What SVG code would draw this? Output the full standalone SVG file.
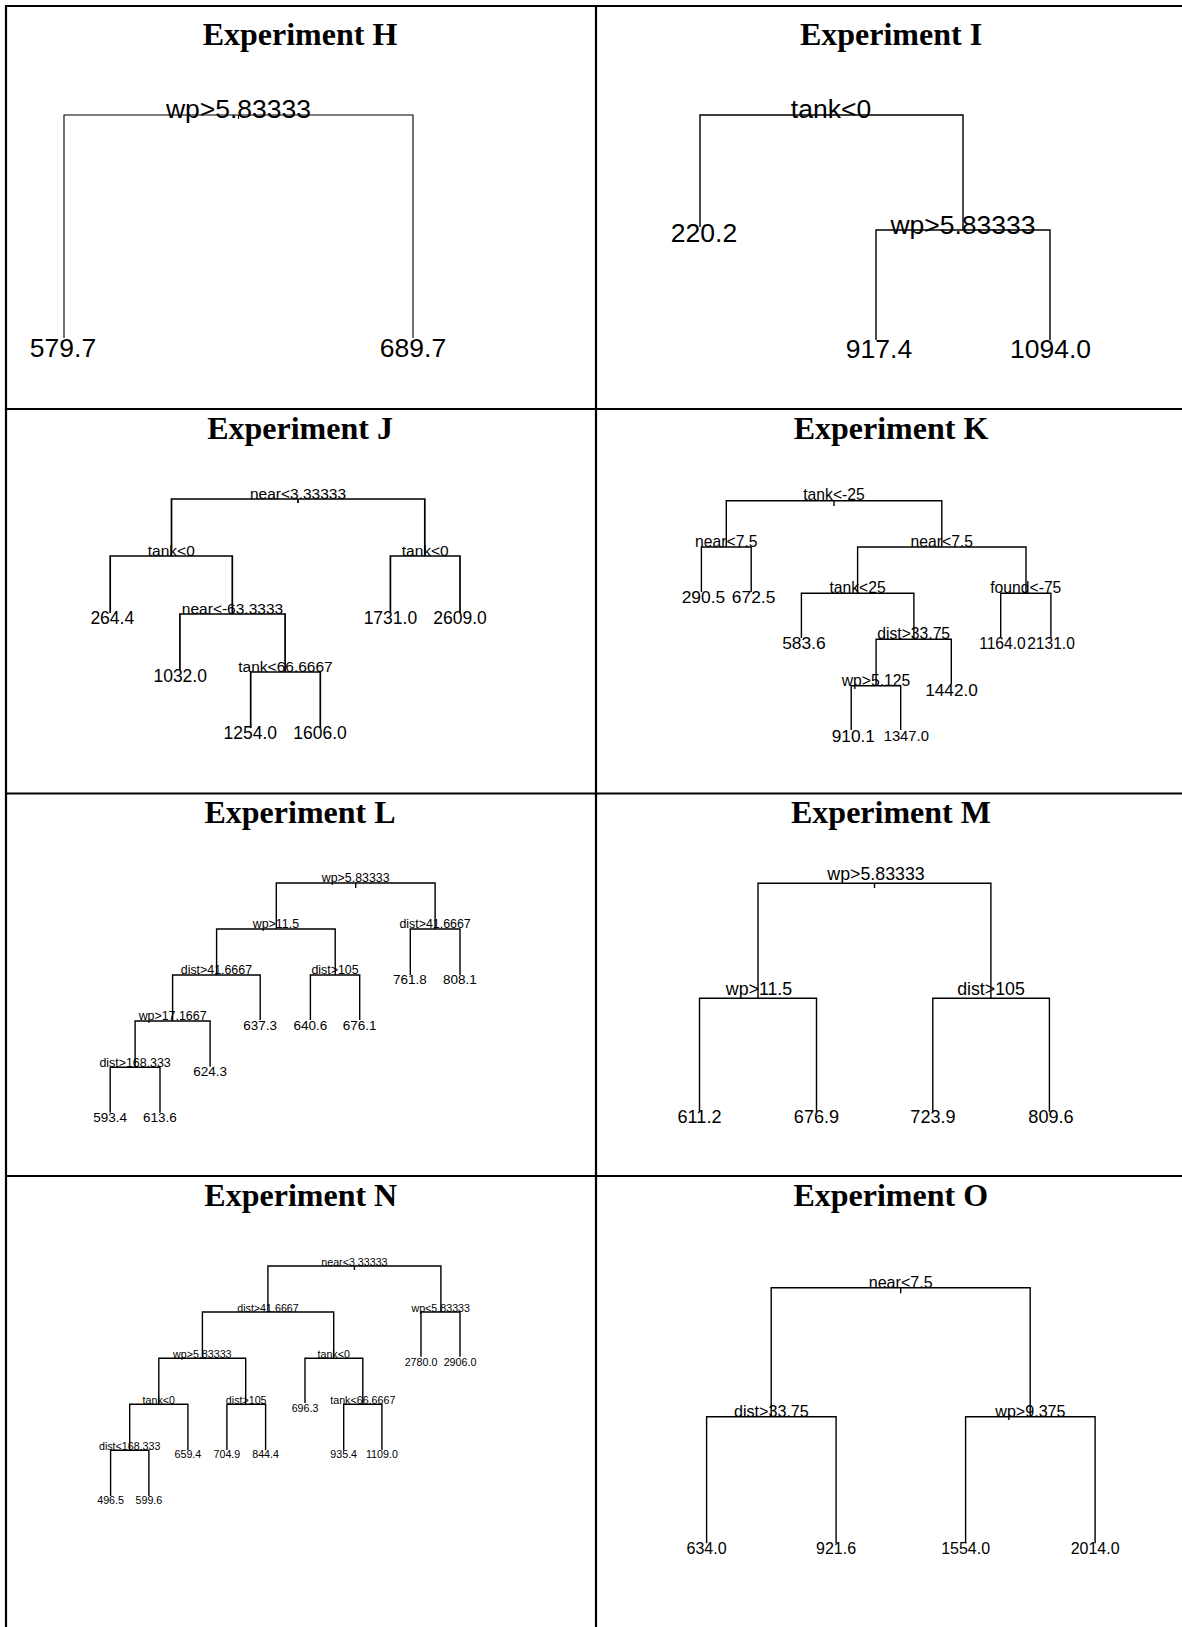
<svg xmlns="http://www.w3.org/2000/svg" width="1182" height="1627" viewBox="0 0 1182 1627">
<style>
.frame{stroke:#000;stroke-width:2.2;fill:none}
.edges path{stroke:#000;fill:none;stroke-width:1.4}
.thin path{stroke-width:1.1}
.thick path{stroke-width:1.7}
.title{font-family:"Liberation Serif","Times New Roman",serif;font-weight:bold;font-size:32px;text-anchor:middle;fill:#000}
.lab{font-family:"Liberation Sans",Arial,sans-serif;text-anchor:middle;fill:#000}
</style>
<rect x="0" y="0" width="1182" height="1627" fill="#fff"/>
<g id="frame" class="frame">
<path d="M5,6 H1182 M6,5 V1627 M596,5 V1627 M5,409 H1182 M5,793.5 H1182 M5,1176 H1182"/>
</g>

<g id="panel-H">
<text class="title" x="300" y="45">Experiment H</text>
<g id="H-connectors" class="edges thin">
<path d="M64,338 V115 H413 V338"/>
<path d="M238.5,115 V119"/>
</g>
<g id="H-n1"><text class="lab" font-size="26.5" x="238.5" y="118">wp&gt;5.83333</text></g>
<g id="H-n2"><text class="lab" font-size="26.5" x="63" y="357">579.7</text></g>
<g id="H-n3"><text class="lab" font-size="26.5" x="413" y="357">689.7</text></g>
</g>

<g id="panel-I">
<text class="title" x="891" y="45">Experiment I</text>
<g id="I-connectors" class="edges">
<path d="M700,227 V115 H963 V230"/>
<path d="M876,340 V230 H1050 V340"/>
</g>
<g id="I-n1"><text class="lab" font-size="26.5" x="831" y="118">tank&lt;0</text></g>
<g id="I-n2"><text class="lab" font-size="26.5" x="704" y="242">220.2</text></g>
<g id="I-n3"><text class="lab" font-size="26.5" x="963" y="234">wp&gt;5.83333</text></g>
<g id="I-n4"><text class="lab" font-size="26.5" x="879" y="358">917.4</text></g>
<g id="I-n5"><text class="lab" font-size="26.5" x="1050.5" y="358">1094.0</text></g>
</g>

<g id="panel-J">
<text class="title" x="300" y="439">Experiment J</text>
<g id="J-connectors" class="edges thick">
<path d="M171.5,556 V499 H424.8 V556"/>
<path d="M298,499 V503"/>
<path d="M110.2,613 V556 H232.3 V614"/>
<path d="M390.4,613 V556 H460 V613"/>
<path d="M179.9,670 V614 H285.1 V672"/>
<path d="M250.7,728 V672 H320.3 V728"/>
</g>
<g id="J-n1"><text class="lab" font-size="15.5" x="298" y="498.5">near&lt;3.33333</text></g>
<g id="J-n2"><text class="lab" font-size="15.5" x="171.3" y="555.5">tank&lt;0</text></g>
<g id="J-n3"><text class="lab" font-size="15.5" x="425.2" y="555.5">tank&lt;0</text></g>
<g id="J-n4"><text class="lab" font-size="17.5" x="112.3" y="624">264.4</text></g>
<g id="J-n5"><text class="lab" font-size="15.5" x="232.5" y="613.5">near&lt;-63.3333</text></g>
<g id="J-n6"><text class="lab" font-size="17.5" x="180.2" y="681.7">1032.0</text></g>
<g id="J-n7"><text class="lab" font-size="15.5" x="285.5" y="671.5">tank&lt;66.6667</text></g>
<g id="J-n8"><text class="lab" font-size="17.5" x="250.3" y="739">1254.0</text></g>
<g id="J-n9"><text class="lab" font-size="17.5" x="320" y="739">1606.0</text></g>
<g id="J-n10"><text class="lab" font-size="17.5" x="390.4" y="624">1731.0</text></g>
<g id="J-n11"><text class="lab" font-size="17.5" x="460" y="624">2609.0</text></g>
</g>

<g id="panel-K">
<text class="title" x="891" y="439">Experiment K</text>
<g id="K-connectors" class="edges">
<path d="M726.3,547 V500.7 H941.8 V547"/>
<path d="M834,500.7 V506"/>
<path d="M701.4,592 V547 H751.2 V592"/>
<path d="M857.6,593.3 V547 H1026 V593.3"/>
<path d="M801.4,638 V593.3 H913.9 V639.3"/>
<path d="M1000.7,638 V593.3 H1050.9 V638"/>
<path d="M876.1,685.7 V639.3 H951.3 V684"/>
<path d="M851.2,730 V685.7 H900.7 V730"/>
</g>
<g id="K-n1"><text class="lab" font-size="15.7" x="834" y="500">tank&lt;-25</text></g>
<g id="K-n2"><text class="lab" font-size="15.7" x="726.3" y="546.5">near&lt;7.5</text></g>
<g id="K-n3"><text class="lab" font-size="15.7" x="941.8" y="546.5">near&lt;7.5</text></g>
<g id="K-n4"><text class="lab" font-size="17.4" x="703.4" y="602.7">290.5</text></g>
<g id="K-n5"><text class="lab" font-size="17.4" x="753.6" y="602.7">672.5</text></g>
<g id="K-n6"><text class="lab" font-size="15.7" x="857.6" y="593">tank&lt;25</text></g>
<g id="K-n7"><text class="lab" font-size="15.7" x="1025.8" y="593">found&lt;-75</text></g>
<g id="K-n8"><text class="lab" font-size="17.4" x="803.9" y="649">583.6</text></g>
<g id="K-n9"><text class="lab" font-size="15.7" x="913.7" y="639">dist&gt;33.75</text></g>
<g id="K-n10"><text class="lab" font-size="15.6" x="1002.4" y="649">1164.0</text></g>
<g id="K-n11"><text class="lab" font-size="15.6" x="1051" y="649">2131.0</text></g>
<g id="K-n12"><text class="lab" font-size="15.7" x="876" y="685.5">wp&gt;5.125</text></g>
<g id="K-n13"><text class="lab" font-size="17.2" x="951.5" y="696">1442.0</text></g>
<g id="K-n14"><text class="lab" font-size="17.3" x="853.3" y="741.7">910.1</text></g>
<g id="K-n15"><text class="lab" font-size="14.8" x="906.3" y="740.7">1347.0</text></g>
</g>

<g id="panel-L">
<text class="title" x="300" y="823">Experiment L</text>
<g id="L-connectors" class="edges">
<path d="M276.3,929 V883 H435.1 V929"/>
<path d="M355.7,883 V888"/>
<path d="M216.6,975 V929 H335.2 V975"/>
<path d="M410.3,975 V929 H460 V975"/>
<path d="M172.6,1021 V975 H260.2 V1020"/>
<path d="M310.4,1020 V975 H359.7 V1020"/>
<path d="M135.1,1067.3 V1021 H210.1 V1066.7"/>
<path d="M110.2,1112.7 V1067.3 H160 V1112.7"/>
</g>
<g id="L-n1"><text class="lab" font-size="12.4" x="355.7" y="882.3">wp&gt;5.83333</text></g>
<g id="L-n2"><text class="lab" font-size="12.4" x="275.9" y="928.3">wp&gt;11.5</text></g>
<g id="L-n3"><text class="lab" font-size="12.4" x="435.1" y="928.3">dist&gt;41.6667</text></g>
<g id="L-n4"><text class="lab" font-size="13.5" x="409.9" y="984">761.8</text></g>
<g id="L-n5"><text class="lab" font-size="13.5" x="459.8" y="984">808.1</text></g>
<g id="L-n6"><text class="lab" font-size="12.4" x="216.4" y="974.3">dist&gt;41.6667</text></g>
<g id="L-n7"><text class="lab" font-size="12.4" x="335" y="974.3">dist&gt;105</text></g>
<g id="L-n8"><text class="lab" font-size="13.5" x="260.2" y="1030">637.3</text></g>
<g id="L-n9"><text class="lab" font-size="13.5" x="310.4" y="1030">640.6</text></g>
<g id="L-n10"><text class="lab" font-size="13.5" x="359.7" y="1030">676.1</text></g>
<g id="L-n11"><text class="lab" font-size="12.4" x="172.6" y="1020.3">wp&gt;17.1667</text></g>
<g id="L-n12"><text class="lab" font-size="13.5" x="210.1" y="1076">624.3</text></g>
<g id="L-n13"><text class="lab" font-size="12.4" x="135.1" y="1066.6">dist&gt;168.333</text></g>
<g id="L-n14"><text class="lab" font-size="13.5" x="110.2" y="1122.3">593.4</text></g>
<g id="L-n15"><text class="lab" font-size="13.5" x="160" y="1122.3">613.6</text></g>
</g>

<g id="panel-M">
<text class="title" x="891" y="823">Experiment M</text>
<g id="M-connectors" class="edges">
<path d="M758,998.3 V883.3 H990.9 V998.3"/>
<path d="M874.5,883.3 V888"/>
<path d="M699.5,1111.7 V998.3 H816.5 V1111.7"/>
<path d="M932.8,1111.7 V998.3 H1049.4 V1111.7"/>
</g>
<g id="M-n1"><text class="lab" font-size="17.8" x="876" y="880">wp&gt;5.83333</text></g>
<g id="M-n2"><text class="lab" font-size="17.8" x="759" y="995">wp&gt;11.5</text></g>
<g id="M-n3"><text class="lab" font-size="17.8" x="991" y="995">dist&gt;105</text></g>
<g id="M-n4"><text class="lab" font-size="18.1" x="699.5" y="1123.3">611.2</text></g>
<g id="M-n5"><text class="lab" font-size="18.1" x="816.5" y="1123.3">676.9</text></g>
<g id="M-n6"><text class="lab" font-size="18.1" x="933" y="1123.3">723.9</text></g>
<g id="M-n7"><text class="lab" font-size="18.1" x="1051" y="1123.3">809.6</text></g>
</g>

<g id="panel-N">
<text class="title" x="300.8" y="1206">Experiment N</text>
<g id="N-connectors" class="edges">
<path d="M267.9,1312 V1266 H440.9 V1312"/>
<path d="M354.4,1266 V1270"/>
<path d="M202.4,1358.3 V1312 H333.7 V1358.3"/>
<path d="M421,1356.7 V1312 H460 V1356.7"/>
<path d="M158.8,1404.3 V1358.3 H245.7 V1404.3"/>
<path d="M305,1403 V1358.3 H362.8 V1404.3"/>
<path d="M343.7,1450 V1404.3 H381.9 V1450"/>
<path d="M129.7,1450.3 V1404.3 H187.9 V1450"/>
<path d="M226.9,1450 V1404.3 H265.6 V1450"/>
<path d="M110.6,1496 V1450.3 H148.9 V1496"/>
</g>
<g id="N-n1"><text class="lab" font-size="10.7" x="354.4" y="1265.5">near&lt;3.33333</text></g>
<g id="N-n2"><text class="lab" font-size="10.7" x="268" y="1311.5">dist&gt;41.6667</text></g>
<g id="N-n3"><text class="lab" font-size="10.7" x="440.7" y="1311.5">wp&lt;5.83333</text></g>
<g id="N-n4"><text class="lab" font-size="10.7" x="421" y="1365.7">2780.0</text></g>
<g id="N-n5"><text class="lab" font-size="10.7" x="460" y="1365.7">2906.0</text></g>
<g id="N-n6"><text class="lab" font-size="10.7" x="202.3" y="1357.8">wp&gt;5.83333</text></g>
<g id="N-n7"><text class="lab" font-size="10.7" x="333.7" y="1357.8">tank&lt;0</text></g>
<g id="N-n8"><text class="lab" font-size="10.7" x="305" y="1411.7">696.3</text></g>
<g id="N-n9"><text class="lab" font-size="10.7" x="362.8" y="1403.8">tank&lt;66.6667</text></g>
<g id="N-n10"><text class="lab" font-size="10.7" x="343.7" y="1457.7">935.4</text></g>
<g id="N-n11"><text class="lab" font-size="10.7" x="381.9" y="1457.7">1109.0</text></g>
<g id="N-n12"><text class="lab" font-size="10.7" x="158.8" y="1403.8">tank&lt;0</text></g>
<g id="N-n13"><text class="lab" font-size="10.7" x="246.2" y="1403.8">dist&gt;105</text></g>
<g id="N-n14"><text class="lab" font-size="10.7" x="187.9" y="1457.7">659.4</text></g>
<g id="N-n15"><text class="lab" font-size="10.7" x="226.9" y="1457.7">704.9</text></g>
<g id="N-n16"><text class="lab" font-size="10.7" x="265.6" y="1457.7">844.4</text></g>
<g id="N-n17"><text class="lab" font-size="10.7" x="129.7" y="1449.8">dist&lt;168.333</text></g>
<g id="N-n18"><text class="lab" font-size="10.7" x="110.6" y="1504.3">496.5</text></g>
<g id="N-n19"><text class="lab" font-size="10.7" x="148.9" y="1504.3">599.6</text></g>
</g>

<g id="panel-O">
<text class="title" x="890.7" y="1206">Experiment O</text>
<g id="O-connectors" class="edges">
<path d="M771.2,1416.7 V1287.7 H1030.2 V1416.7"/>
<path d="M900.7,1287.7 V1293.3"/>
<path d="M706.6,1543.3 V1416.7 H836.1 V1543.3"/>
<path d="M965.6,1543.3 V1416.7 H1095.1 V1543.3"/>
</g>
<g id="O-n1"><text class="lab" font-size="16.1" x="900.7" y="1287.5">near&lt;7.5</text></g>
<g id="O-n2"><text class="lab" font-size="16.1" x="771.4" y="1416.5">dist&gt;33.75</text></g>
<g id="O-n3"><text class="lab" font-size="16.1" x="1030.4" y="1416.5">wp&gt;9.375</text></g>
<g id="O-n4"><text class="lab" font-size="16" x="706.6" y="1554">634.0</text></g>
<g id="O-n5"><text class="lab" font-size="16" x="836.1" y="1554">921.6</text></g>
<g id="O-n6"><text class="lab" font-size="16" x="965.6" y="1554">1554.0</text></g>
<g id="O-n7"><text class="lab" font-size="16" x="1095.1" y="1554">2014.0</text></g>
</g>
</svg>
